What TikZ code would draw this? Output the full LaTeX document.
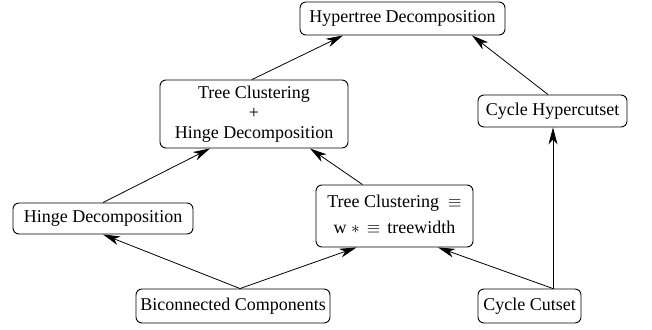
\documentclass[tikz,border=0pt]{standalone}
\usepackage{fontspec}
\setmainfont{LiberationSerif}[Extension=.ttf, UprightFont=*-Regular, BoldFont=*-Bold, ItalicFont=*-Italic]
\usetikzlibrary{arrows.meta}
\begin{document}
\begin{tikzpicture}[x=1pt,y=-1pt,
  box/.style={draw, line width=0.9pt, rounded corners=6pt, inner sep=0pt,
    font=\fontsize{18}{20}\selectfont},
  conn/.style={line width=0.8pt, -{Stealth[length=17pt,width=9pt,inset=5pt]}}]
\useasboundingbox (0,0) rectangle (652,329);
\node[box, minimum width=205pt, minimum height=33pt] (hyp) at (402.5,18.5) {Hypertree Decomposition\hspace{7pt}};
\node[box, minimum width=188pt, minimum height=68pt] (tch) at (254,114)
  {\begin{tabular}{@{}c@{}}Tree Clustering\\+\\Hinge Decomposition\end{tabular}\hspace{11pt}};
\node[box, minimum width=149pt, minimum height=32pt] (chyp) at (552.5,111) {Cycle Hypercutset\hspace{5pt}};
\node[box, minimum width=180pt, minimum height=31pt] (hinge) at (103,218.5) {Hinge Decomposition\hspace{11pt}};
\node[box, minimum width=157pt, minimum height=62pt] (tceq) at (394.5,216)
  {\begin{tabular}{@{}c@{}}Tree Clustering\hspace{9pt}$\equiv$\\[6pt]w $\ast$\hspace{7pt}$\equiv$\hspace{7pt}treewidth\end{tabular}\hspace{4pt}};
\node[box, minimum width=194pt, minimum height=34pt] (bic) at (233,306) {Biconnected Components\hspace{9pt}};
\node[box, minimum width=103pt, minimum height=34pt] (cut) at (529.5,306) {Cycle Cutset\hspace{5pt}};

\draw[conn] (hinge.north) -- ([xshift=-44pt]tch.south);
\draw[conn] ([xshift=-32pt]tceq.north) -- ([xshift=56pt]tch.south);
\draw[conn] ([xshift=7pt]bic.north) -- (hinge.south);
\draw[conn] ([xshift=7pt]bic.north) -- ([xshift=-38pt]tceq.south);
\draw[conn] ([xshift=23.5pt]cut.north) -- ([xshift=43.5pt]tceq.south);
\draw[conn] ([xshift=23.5pt]cut.north) -- ([xshift=0.5pt]chyp.south);
\draw[conn] ([xshift=-2pt]tch.north) -- ([xshift=-59.5pt]hyp.south);
\draw[conn] ([xshift=-4.5pt]chyp.north) -- ([xshift=69.5pt]hyp.south);
\end{tikzpicture}
\end{document}
